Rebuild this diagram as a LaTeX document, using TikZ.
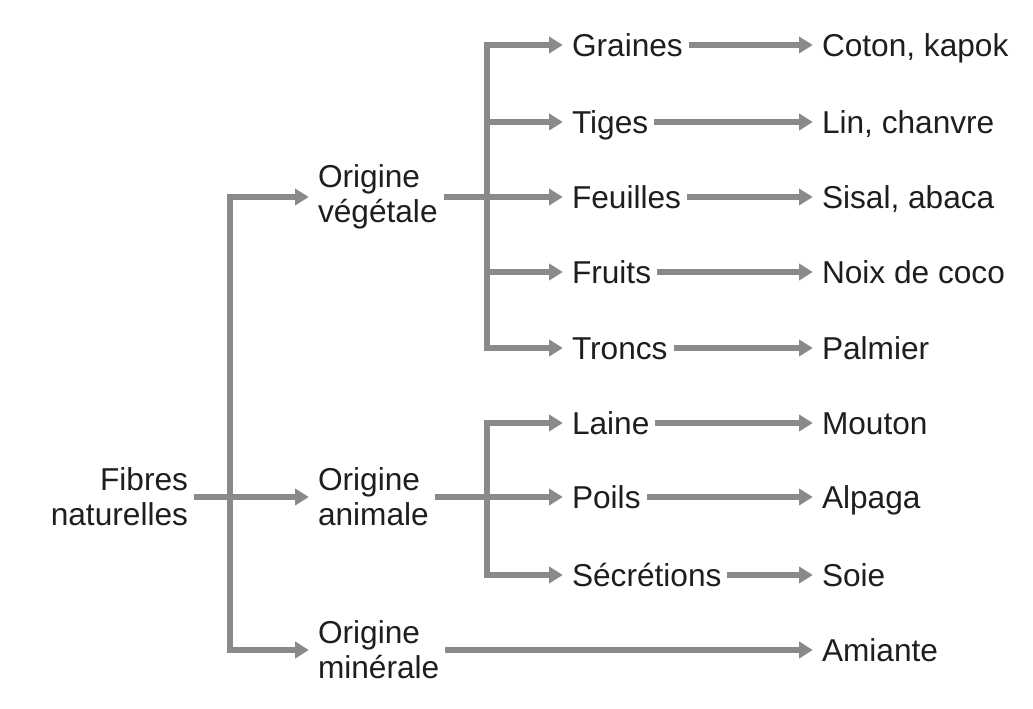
\documentclass[tikz,border=0pt]{standalone}
\usepackage{fontspec}
\setmainfont{Liberation Sans}
\usetikzlibrary{arrows.meta,positioning}

\definecolor{linegray}{HTML}{8A8A8A}
\definecolor{textgray}{HTML}{1E1E1E}

\begin{document}
\begin{tikzpicture}[x = 0.025cm, y = -0.025cm, line join = miter,
  txt/.style = {inner sep = 0pt, outer sep = 0.15cm, text = textgray, font = \fontsize{22.5}{25}\selectfont, text height = 0.58cm, text depth = 0pt},
  twoline/.style = {inner sep = 0pt, outer sep = 0.15cm, text = textgray, font = \fontsize{22.5}{25}\selectfont},
  line/.style = {draw = linegray, line width = 0.15cm},
  link/.style = {line, -{Triangle[length = 0.34cm, width = 0.4cm]}, shorten >= 0.08cm}]
\useasboundingbox (0,0) rectangle (1033,709);

% root and first level
\node[twoline, anchor = east, align = right] (fib) at (194,497) {Fibres\\naturelles};
\node[twoline, anchor = west, align = left] (veg) at (312,197) {Origine\\végétale};
\node[twoline, anchor = west, align = left] (ani) at (312,497) {Origine\\animale};
\node[twoline, anchor = west, align = left] (min) at (312,650) {Origine\\minérale};
\coordinate (tr) at (230,497);
\coordinate (vf) at (487,197);
\coordinate (af) at (487,497);

% second level
\node[txt, anchor = west] (gra) at (566,45) {Graines};
\node[txt, anchor = west] (tig) at (566,122) {Tiges};
\node[txt, anchor = west] (feu) at (566,197) {Feuilles};
\node[txt, anchor = west] (fru) at (566,272) {Fruits};
\node[txt, anchor = west] (tro) at (566,348) {Troncs};
\node[txt, anchor = west] (lai) at (566,423) {Laine};
\node[txt, anchor = west] (poi) at (566,497) {Poils};
\node[txt, anchor = west] (sec) at (566,575) {Sécrétions};

% third level
\node[txt, anchor = west] (cot) at (816,45) {Coton, kapok};
\node[txt, anchor = west] (lin) at (816,122) {Lin, chanvre};
\node[txt, anchor = west] (sis) at (816,197) {Sisal, abaca};
\node[txt, anchor = west] (noi) at (816,272) {Noix de coco};
\node[txt, anchor = west] (pal) at (816,348) {Palmier};
\node[txt, anchor = west] (mou) at (816,423) {Mouton};
\node[txt, anchor = west] (alp) at (816,497) {Alpaga};
\node[txt, anchor = west] (soi) at (816,575) {Soie};
\node[txt, anchor = west] (ami) at (816,650) {Amiante};

\draw[link] (fib.east) -- (ani.west);
\draw[link] (tr) |- (veg.west);
\draw[link] (tr) |- (min.west);

\draw[line] (veg.east) -- (vf);
\foreach \leaf in {gra, tig, feu, fru, tro}
  \draw[link] (vf) |- (\leaf.west);
\draw[line] (ani.east) -- (af);
\foreach \leaf in {lai, poi, sec}
  \draw[link] (af) |- (\leaf.west);

\draw[link] (gra) -- (cot);
\draw[link] (tig) -- (lin);
\draw[link] (feu) -- (sis);
\draw[link] (fru) -- (noi);
\draw[link] (tro) -- (pal);
\draw[link] (lai) -- (mou);
\draw[link] (poi) -- (alp);
\draw[link] (sec) -- (soi);
\draw[link] (min) -- (ami);
\end{tikzpicture}
\end{document}
